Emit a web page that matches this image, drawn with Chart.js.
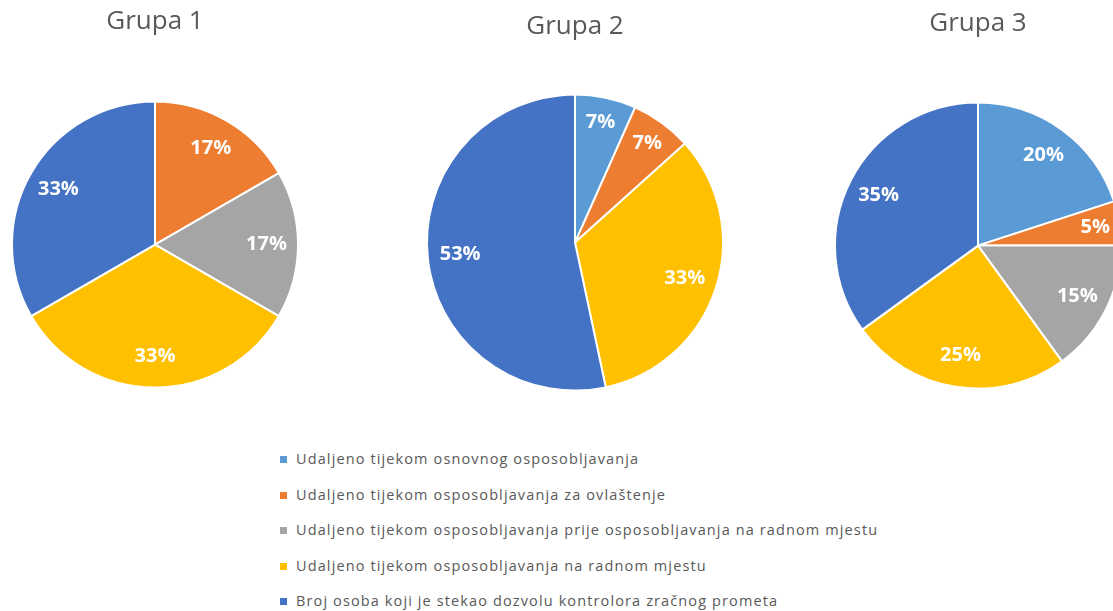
<!DOCTYPE html>
<html>
<head>
<meta charset="utf-8">
<script src="https://cdn.jsdelivr.net/npm/chart.js@4.4.1/dist/chart.umd.min.js"></script>
<style>
  html, body { margin: 0; padding: 0; background: #ffffff; width: 1113px; height: 611px; overflow: hidden; position: relative; }
  .pie { position: absolute; }
  #legend { position: absolute; left: 280px; top: 448px; margin: 0; padding: 0; list-style: none;
            font-family: "Open Sans", "Noto Sans", sans-serif; font-size: 14.5px; color: #595959; letter-spacing: 1.12px; }
  #legend li { height: 35.5px; line-height: 22px; white-space: nowrap; }
  #legend span.box { display: inline-block; width: 7px; height: 7px; margin-right: 9px; vertical-align: 1px; }
</style>
</head>
<body>
<div class="pie" id="w1"><canvas id="c1"></canvas></div>
<div class="pie" id="w2"><canvas id="c2"></canvas></div>
<div class="pie" id="w3"><canvas id="c3"></canvas></div>
<ul id="legend"></ul>
<script>
const categories = [
  "Udaljeno tijekom osnovnog osposobljavanja",
  "Udaljeno tijekom osposobljavanja za ovlaštenje",
  "Udaljeno tijekom osposobljavanja prije osposobljavanja na radnom mjestu",
  "Udaljeno tijekom osposobljavanja na radnom mjestu",
  "Broj osoba koji je stekao dozvolu kontrolora zračnog prometa"
];
const groupTitles = ["Grupa 1", "Grupa 2", "Grupa 3"];
const grupa1 = [0, 1, 1, 2, 2];
const grupa2 = [1, 1, 0, 5, 8];
const grupa3 = [4, 1, 3, 5, 7];
const colors = ["#5B9BD5", "#ED7D31", "#A5A5A5", "#FFC000", "#4472C4"];

const layouts = [
  { id: "c1", wrap: "w1", cx: 155, cy: 245, r: 143, titleY: 22, data: grupa1, title: groupTitles[0] },
  { id: "c2", wrap: "w2", cx: 575, cy: 243, r: 148, titleY: 27, data: grupa2, title: groupTitles[1] },
  { id: "c3", wrap: "w3", cx: 978, cy: 246, r: 143, titleY: 24, data: grupa3, title: groupTitles[2] }
];

const pctLabels = {
  id: "pctLabels",
  afterDatasetsDraw(chart) {
    const ctx = chart.ctx;
    const meta = chart.getDatasetMeta(0);
    const vals = chart.data.datasets[0].data;
    const total = vals.reduce((a, b) => a + b, 0);
    ctx.save();
    ctx.fillStyle = "#ffffff";
    ctx.font = "bold 20px 'Open Sans', 'Noto Sans', sans-serif";
    ctx.textAlign = "center";
    ctx.textBaseline = "middle";
    meta.data.forEach((arc, i) => {
      if (!vals[i]) return;
      const p = arc.getProps(["x", "y", "startAngle", "endAngle", "outerRadius"], true);
      const frac = vals[i] / total;
      const mid = (p.startAngle + p.endAngle) / 2;
      const k = frac < 0.1 ? 0.83 : 0.78;
      const rr = p.outerRadius * k;
      ctx.fillText(Math.round(frac * 100) + "%", p.x + Math.cos(mid) * rr, p.y + Math.sin(mid) * rr);
    });
    ctx.restore();
  }
};

const W = 340;
const titleSize = 26;
layouts.forEach(L => {
  const padTop = 6, padBottom = 12;
  const lineH = titleSize * 1.2;
  const canvasTop = L.titleY - (padTop + lineH / 2);
  const areaTop = padTop + lineH + padBottom;
  const centerInCanvas = L.cy - canvasTop;
  const H = Math.round(2 * centerInCanvas - areaTop);
  const wrap = document.getElementById(L.wrap);
  wrap.style.left = (L.cx - W / 2) + "px";
  wrap.style.top = canvasTop + "px";
  wrap.style.width = W + "px";
  wrap.style.height = H + "px";
  new Chart(document.getElementById(L.id), {
    type: "pie",
    data: {
      labels: categories,
      datasets: [{
        data: L.data,
        backgroundColor: colors,
        borderColor: "#ffffff",
        borderWidth: 2,
        radius: L.r
      }]
    },
    options: {
      responsive: true,
      maintainAspectRatio: false,
      animation: false,
      layout: { padding: 0 },
      plugins: {
        legend: { display: false },
        tooltip: { enabled: false },
        title: {
          display: true,
          text: L.title,
          color: "#595959",
          font: { family: "'Open Sans', 'Noto Sans', sans-serif", size: titleSize, weight: "normal", lineHeight: 1.2 },
          padding: { top: padTop, bottom: padBottom }
        }
      }
    },
    plugins: [pctLabels]
  });
});

const legendEl = document.getElementById("legend");
categories.forEach((c, i) => {
  const li = document.createElement("li");
  const box = document.createElement("span");
  box.className = "box";
  box.style.background = colors[i];
  li.appendChild(box);
  li.appendChild(document.createTextNode(c));
  legendEl.appendChild(li);
});
</script>
</body>
</html>
